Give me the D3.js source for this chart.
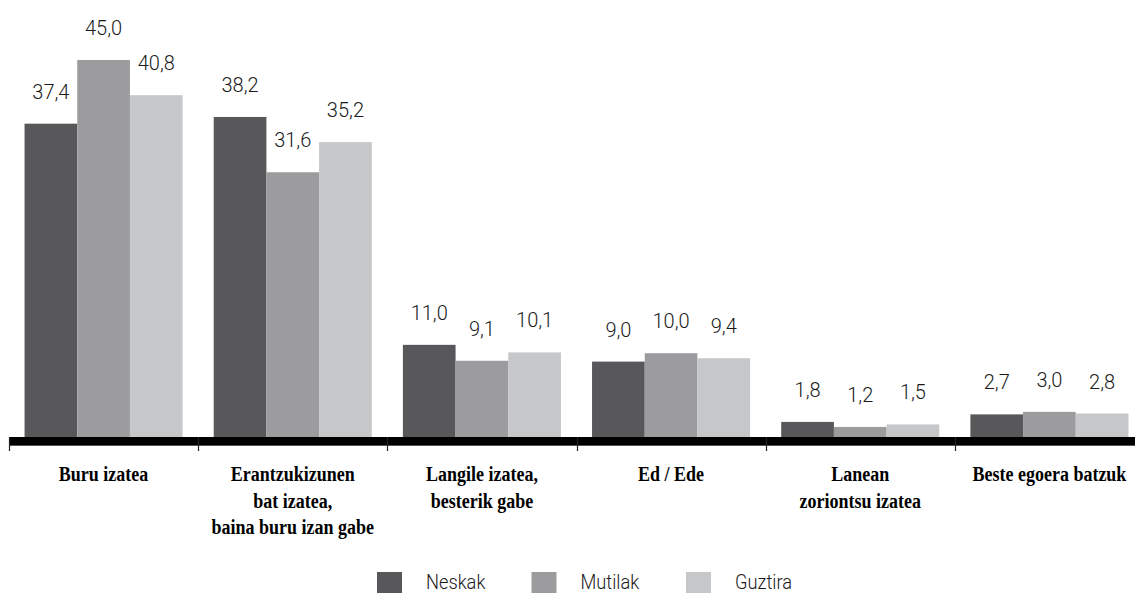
<!DOCTYPE html>
<html>
<head>
<meta charset="utf-8">
<script src="https://cdn.jsdelivr.net/npm/d3@7"></script>
<style>
  html, body { margin: 0; padding: 0; background: #fff; }
  svg { display: block; }
  .val { font-family: Roboto, "Liberation Sans", sans-serif; font-weight: 300; font-size: 20px; fill: #1a1a1a; }
  .cat { font-family: "Liberation Serif", "Times New Roman", serif; font-weight: bold; font-size: 18px; fill: #000; }
  .leg { font-family: Roboto, "Liberation Sans", sans-serif; font-weight: 300; font-size: 21px; fill: #1a1a1a; }
</style>
</head>
<body>
<svg id="chart" width="1135" height="595"></svg>
<script>
// Categories (each label split into its printed lines)
const categories = [
  ["Buru izatea"],
  ["Erantzukizunen", "bat izatea,", "baina buru izan gabe"],
  ["Langile izatea,", "besterik gabe"],
  ["Ed / Ede"],
  ["Lanean", "zoriontsu izatea"],
  ["Beste egoera batzuk"]
];
const seriesNames = ["Neskak", "Mutilak", "Guztira"];
const neskak  = [37.4, 38.2, 11.0, 9.0, 1.8, 2.7];
const mutilak = [45.0, 31.6, 9.1, 10.0, 1.2, 3.0];
const guztira = [40.8, 35.2, 10.1, 9.4, 1.5, 2.8];
const colors = ["#58585a", "#9c9c9e", "#c6c7c9"];

const seriesValues = [neskak, mutilak, guztira];
const catKeys = categories.map(c => c.join(" "));

const svg = d3.select("#chart");
const baseY = 437;

const x0 = d3.scaleBand().domain(catKeys).range([9, 1144]).paddingInner(0).paddingOuter(0);
const x1 = d3.scaleBand().domain(seriesNames).range([0, x0.bandwidth()]).paddingInner(0).paddingOuter(0.295);
const y = d3.scaleLinear().domain([0, 45]).range([baseY, 60]);

const fmt = v => v.toFixed(1).replace(".", ",");

// Bars and their value labels
const groups = svg.append("g").selectAll("g")
  .data(catKeys)
  .join("g")
  .attr("transform", d => `translate(${x0(d)},0)`);

groups.each(function(cat, ci) {
  const g = d3.select(this);
  const rows = seriesNames.map((s, si) => ({ s, si, v: seriesValues[si][ci] }));
  g.selectAll("rect")
    .data(rows)
    .join("rect")
    .attr("x", d => x1(d.s))
    .attr("y", d => y(d.v))
    .attr("width", x1.bandwidth())
    .attr("height", d => baseY - y(d.v))
    .attr("fill", d => colors[d.si]);
  g.selectAll("text")
    .data(rows)
    .join("text")
    .attr("class", "val")
    .attr("text-anchor", "middle")
    .attr("x", d => x1(d.s) + x1.bandwidth() / 2)
    .attr("y", d => y(d.v) - 25)
    .text(d => fmt(d.v));
});

// Category axis: thick baseline with ticks between groups
const axis = d3.axisBottom(x0).tickSize(0).tickFormat("");
const axisG = svg.append("g").attr("transform", `translate(0,${baseY})`).call(axis);
axisG.select(".domain").remove();
svg.append("rect")
  .attr("x", 9).attr("y", baseY)
  .attr("width", 1135 - 9).attr("height", 8)
  .attr("fill", "#000");
svg.append("line")
  .attr("x1", 9).attr("x2", 1135)
  .attr("y1", baseY + 8.5).attr("y2", baseY + 8.5)
  .attr("stroke", "#555").attr("stroke-width", 1);
const tickPos = catKeys.map(k => x0(k)).concat([x0.range()[1]]);
svg.append("g").selectAll("line")
  .data(tickPos)
  .join("line")
  .attr("x1", d => Math.round(d) + 0.5).attr("x2", d => Math.round(d) + 0.5)
  .attr("y1", baseY).attr("y2", baseY + 14)
  .attr("stroke", "#222").attr("stroke-width", 1.2);

// Category labels (vertically stretched bold serif)
const catG = svg.append("g");
categories.forEach((lines, ci) => {
  const cx = x0(catKeys[ci]) + x0.bandwidth() / 2;
  const t = catG.append("text")
    .attr("class", "cat")
    .attr("text-anchor", "middle")
    .attr("transform", `translate(${cx},481) scale(1,1.2)`);
  lines.forEach((ln, li) => {
    t.append("tspan").attr("x", 0).attr("y", li * 22.2).text(ln);
  });
});

// Legend (condensed labels)
const leg = svg.append("g").selectAll("g")
  .data(seriesNames)
  .join("g")
  .attr("transform", (d, i) => `translate(${377 + i * 154.5},572)`);
leg.append("rect").attr("width", 25).attr("height", 21).attr("fill", (d, i) => colors[i]);
leg.append("text").attr("class", "leg")
  .attr("transform", "translate(49,17) scale(0.87,1)")
  .text(d => d);
</script>
</body>
</html>
